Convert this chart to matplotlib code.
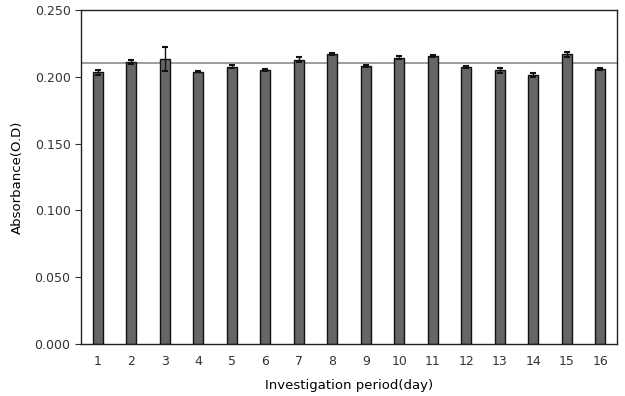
import matplotlib.pyplot as plt
import numpy as np

plt.rcParams['font.family'] = ['DejaVu Sans']

# Absorbance per day
days = [str(d) for d in range(1, 17)]
absorbance = [0.2034, 0.2111, 0.2131, 0.2038, 0.2076, 0.2054, 0.2128, 0.2168,
              0.2083, 0.2143, 0.2156, 0.2073, 0.2049, 0.2016, 0.2168, 0.2058]
errors = [0.0020, 0.0015, 0.0090, 0.0005, 0.0010, 0.0007, 0.0020, 0.0007,
          0.0008, 0.0012, 0.0008, 0.0005, 0.0020, 0.0015, 0.0018, 0.0010]
reference_level = 0.210

fig = plt.figure(figsize=(6.25, 3.96), dpi=100)
ax = fig.add_axes([81 / 625, 52 / 396, 536 / 625, 334 / 396])

x = np.arange(len(days))
ax.axhline(reference_level, color='#8c8c8c', linewidth=1.2, zorder=1)
ax.bar(x, absorbance, width=0.3, color='#666666', edgecolor='#111111',
       linewidth=1.0, zorder=2)
ax.errorbar(x, absorbance, yerr=errors, fmt='none', ecolor='#111111',
            elinewidth=1.0, capsize=2.5, capthick=1.5, zorder=3)

ax.set_xlim(-0.5, len(days) - 0.5)
ax.set_ylim(0, 0.25)
ax.set_yticks(np.arange(0, 0.2501, 0.05))
ax.set_yticklabels([f'{v:.3f}' for v in np.arange(0, 0.2501, 0.05)])
ax.set_xticks(x)
ax.set_xticklabels(days)
ax.tick_params(axis='x', length=0, pad=8, labelsize=9, colors='#333333')
ax.tick_params(axis='y', direction='out', length=4, labelsize=9, colors='#333333')
for s in ax.spines.values():
    s.set_color('#222222')
    s.set_linewidth(1.0)

ax.set_ylabel('Absorbance(O.D)', fontsize=9.5, labelpad=8)
ax.set_xlabel('Investigation period(day)', fontsize=9.5, labelpad=8)

plt.savefig('out.png', dpi=100, facecolor='white')
